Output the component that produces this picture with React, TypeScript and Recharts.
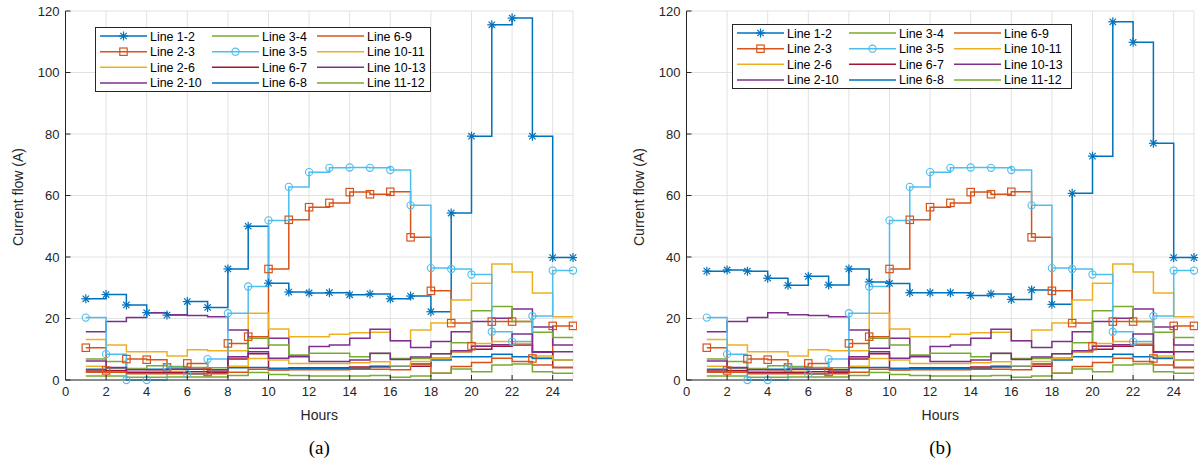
import React from 'react';
import { CartesianGrid, Line, LineChart, XAxis, YAxis } from 'recharts';

const hours = [1, 2, 3, 4, 5, 6, 7, 8, 9, 10, 11, 12, 13, 14, 15, 16, 17, 18, 19, 20, 21, 22, 23, 24, 25];

// line 1-2 differs between the two cases
const line12a = [26.4, 27.8, 24.4, 21.9, 21.1, 25.5, 23.6, 36.1, 50, 31.5, 28.6, 28.3, 28.4, 27.7, 28, 26.4, 27.3, 22.2, 54.3, 79.3, 115.5, 117.7, 79.3, 39.8, 39.8];
const line12b = [35.4, 35.8, 35.4, 33.1, 30.8, 33.7, 30.9, 36.1, 31.9, 31.4, 28.4, 28.4, 28.4, 27.5, 28, 26.2, 29.3, 24.6, 60.7, 72.8, 116.5, 109.8, 77, 39.8, 39.8];

const line23 = [10.5, 3.1, 6.8, 6.6, 4.1, 5.4, 2.6, 11.9, 14.1, 36.1, 52.1, 56.2, 57.6, 61.1, 60.4, 61.2, 46.4, 29, 18.5, 11, 19, 19, 7, 17.6, 17.6];
const line35 = [20.3, 8.4, 0, 0, 4.1, 1.9, 6.8, 21.7, 30.4, 51.9, 62.8, 67.6, 69, 69.1, 69, 68.3, 56.8, 36.4, 36.1, 34.3, 15.7, 12.5, 20.8, 35.6, 35.6];
const line26 = [13.2, 11.4, 9.2, 9.2, 7.8, 9.8, 9.5, 9.5, 21.7, 16.6, 14.1, 14.1, 14.9, 15.4, 15.5, 12.8, 16.3, 18.5, 26, 31.5, 37.7, 35.1, 28.3, 20.6, 20.6];
const line210 = [15.7, 19, 20.3, 21.9, 21.2, 21, 20.6, 16.3, 10.3, 13.6, 7.9, 10.9, 11.4, 13.6, 16.5, 12.8, 10.6, 12.5, 15.7, 19, 20.1, 23.1, 17.2, 11.4, 11.4];
const line34 = [6.8, 6, 3.7, 4.6, 4.4, 4.1, 4, 7.6, 13.6, 11.4, 8.1, 8.7, 8.7, 7.6, 8.6, 7, 7, 8.5, 12.1, 22.5, 23.9, 19, 15.5, 13.8, 13.8];
const line67 = [2.9, 3, 2.5, 2.5, 2.5, 2.7, 2.5, 6.8, 8.5, 3.3, 4, 4, 4, 4.2, 4.5, 4.5, 4.5, 7.1, 9.2, 10, 11, 11.4, 9.2, 4.1, 4.1];
const line68 = [3.5, 3.8, 3.5, 3.5, 3.5, 3.5, 3.3, 4, 4.1, 3.8, 3.8, 3.8, 3.8, 3.8, 4.2, 4.5, 5.2, 6.5, 7.6, 7.6, 8.4, 7.6, 7.1, 6.5, 6.5];
const line69 = [2.5, 2.5, 2, 2, 2, 2, 2, 2.5, 3.5, 3.3, 3.3, 3.3, 3.3, 3.5, 3.5, 3.3, 5.2, 2.2, 4.4, 5.7, 7.1, 6, 4.9, 4.1, 4.1];
const line1011 = [4.5, 4, 3.5, 3.3, 3.3, 3.5, 3.3, 4.5, 7, 6.5, 5.4, 5.4, 5.4, 5.6, 5.9, 4.6, 6, 7.1, 9.2, 11.9, 12.5, 11.9, 7.8, 6.5, 6.5];
const line1013 = [6.2, 4.1, 3.3, 3.3, 3.5, 3.5, 3.3, 7.6, 9.2, 7.1, 7.6, 6, 6, 6.5, 8.7, 6.7, 7.5, 8.5, 9.5, 11, 11.5, 15, 9, 9.2, 9.2];
const line1112 = [1.3, 1.3, 0.9, 0.9, 1, 1, 1, 1.5, 2.4, 1.8, 1.5, 1.3, 1.3, 1.3, 1.5, 0.9, 1.3, 2.2, 3.6, 2.7, 4.9, 5.2, 2.7, 2.2, 2.2];

const xTicks = [0, 2, 4, 6, 8, 10, 12, 14, 16, 18, 20, 22, 24];
const yTicks = [0, 20, 40, 60, 80, 100, 120];

type Marker = 'star' | 'square' | 'circle' | null;

const series: { key: string; name: string; color: string; marker: Marker }[] = [
  { key: 'l12', name: 'Line 1-2', color: '#0072BD', marker: 'star' },
  { key: 'l23', name: 'Line 2-3', color: '#D95319', marker: 'square' },
  { key: 'l26', name: 'Line 2-6', color: '#EDB120', marker: null },
  { key: 'l210', name: 'Line 2-10', color: '#7E2F8E', marker: null },
  { key: 'l34', name: 'Line 3-4', color: '#77AC30', marker: null },
  { key: 'l35', name: 'Line 3-5', color: '#4DBEEE', marker: 'circle' },
  { key: 'l67', name: 'Line 6-7', color: '#A2142F', marker: null },
  { key: 'l68', name: 'Line 6-8', color: '#0072BD', marker: null },
  { key: 'l69', name: 'Line 6-9', color: '#D95319', marker: null },
  { key: 'l1011', name: 'Line 10-11', color: '#EDB120', marker: null },
  { key: 'l1013', name: 'Line 10-13', color: '#7E2F8E', marker: null },
  { key: 'l1112', name: 'Line 11-12', color: '#77AC30', marker: null },
];

const FONT = '"Liberation Sans", Arial, Helvetica, sans-serif';

function MarkerShape({ kind, cx, cy, color }: { kind: Marker; cx: number; cy: number; color: string }) {
  if (kind === 'star') {
    return (
      <g stroke={color} strokeWidth={1.2}>
        <line x1={cx - 4.5} y1={cy} x2={cx + 4.5} y2={cy} />
        <line x1={cx} y1={cy - 4.5} x2={cx} y2={cy + 4.5} />
        <line x1={cx - 3.2} y1={cy - 3.2} x2={cx + 3.2} y2={cy + 3.2} />
        <line x1={cx - 3.2} y1={cy + 3.2} x2={cx + 3.2} y2={cy - 3.2} />
      </g>
    );
  }
  if (kind === 'square') {
    return <rect x={cx - 3.7} y={cy - 3.7} width={7.4} height={7.4} fill="none" stroke={color} strokeWidth={1.2} />;
  }
  if (kind === 'circle') {
    return <circle cx={cx} cy={cy} r={3.6} fill="none" stroke={color} strokeWidth={1.1} />;
  }
  return null;
}

const dotFor = (kind: Marker, color: string) => (props: any) => {
  const { cx, cy, index } = props;
  if (cx == null || cy == null) return <g key={index} />;
  return (
    <g key={index}>
      <MarkerShape kind={kind} cx={cx} cy={cy} color={color} />
    </g>
  );
};

const XTick = (props: any) => {
  const { x, y, payload } = props;
  return (
    <g>
      <line x1={x} x2={x} y1={y} y2={y - 5} stroke="#262626" />
      <text x={x} y={y + 16} textAnchor="middle" fontFamily={FONT} fontSize={13} fill="#262626">
        {payload.value}
      </text>
    </g>
  );
};

const YTick = (props: any) => {
  const { x, y, payload } = props;
  return (
    <g>
      <line x1={x} x2={x + 5} y1={y} y2={y} stroke="#262626" />
      <text x={x - 6} y={y + 4.5} textAnchor="end" fontFamily={FONT} fontSize={13} fill="#262626">
        {payload.value}
      </text>
    </g>
  );
};

const legendCols = [5, 117, 222];
const legendRows = [9, 24.7, 40.3, 55.9];

function LegendBox({ left, top, width }: { left: number; top: number; width: number }) {
  return (
    <svg style={{ position: 'absolute', left, top }} width={width} height={66}>
      <rect x={0.5} y={0.5} width={width - 1} height={64} fill="#fff" stroke="#262626" strokeWidth={1} />
      {series.map((s, i) => {
        const col = Math.floor(i / 4);
        const row = i % 4;
        const x0 = legendCols[col];
        const y0 = legendRows[row];
        return (
          <g key={s.key}>
            <line x1={x0} x2={x0 + 47} y1={y0} y2={y0} stroke={s.color} strokeWidth={1.5} />
            <MarkerShape kind={s.marker} cx={x0 + 23.5} cy={y0} color={s.color} />
            <text x={x0 + 50} y={y0 + 4.5} fontFamily={FONT} fontSize={12.4} fill="#000">
              {s.name}
            </text>
          </g>
        );
      })}
    </svg>
  );
}

function Panel({ line12, left, tag, legendLeft, legendTop, legendWidth }: {
  line12: number[]; left: number; tag: string; legendLeft: number; legendTop: number; legendWidth: number;
}) {
  const data = hours.map((h, i) => ({
    h,
    l12: line12[i],
    l23: line23[i],
    l26: line26[i],
    l210: line210[i],
    l34: line34[i],
    l35: line35[i],
    l67: line67[i],
    l68: line68[i],
    l69: line69[i],
    l1011: line1011[i],
    l1013: line1013[i],
    l1112: line1112[i],
  }));
  return (
    <div style={{ position: 'absolute', left, top: 0, width: 577, height: 464 }}>
      <LineChart width={577} height={464} data={data} margin={{ top: 11, right: 4, left: 25.5, bottom: 0 }}>
        <CartesianGrid stroke="#e2e2e2" strokeWidth={1} />
        <XAxis
          type="number"
          dataKey="h"
          domain={[0, 25]}
          ticks={xTicks}
          interval={0}
          height={84}
          tickLine={false}
          tickSize={0}
          tickMargin={0}
          axisLine={{ stroke: '#262626' }}
          tick={<XTick />}
        />
        <YAxis
          type="number"
          domain={[0, 120]}
          ticks={yTicks}
          interval={0}
          width={40}
          tickLine={false}
          tickSize={0}
          tickMargin={0}
          axisLine={{ stroke: '#262626' }}
          tick={<YTick />}
        />
        {series.map((s) => (
          <Line
            key={s.key}
            type="stepAfter"
            dataKey={s.key}
            name={s.name}
            stroke={s.color}
            strokeWidth={1.5}
            dot={s.marker ? dotFor(s.marker, s.color) : false}
            activeDot={false}
            isAnimationActive={false}
          />
        ))}
      </LineChart>
      <div style={{ position: 'absolute', left: 0, top: 0, width: 577, height: 464, pointerEvents: 'none' }}>
        <div style={{ position: 'absolute', left: 65.5, width: 507.5, top: 407, textAlign: 'center', fontFamily: FONT, fontSize: 14, color: '#262626' }}>
          Hours
        </div>
        <div style={{ position: 'absolute', left: 65.5, width: 507.5, top: 437, textAlign: 'center', fontFamily: '"Liberation Serif", "Times New Roman", serif', fontSize: 19, color: '#000' }}>
          {tag}
        </div>
        <div style={{ position: 'absolute', left: 18, top: 197, transform: 'translate(-50%, -50%) rotate(-90deg)', whiteSpace: 'nowrap', fontFamily: FONT, fontSize: 14, color: '#262626' }}>
          Current flow (A)
        </div>
        <LegendBox left={legendLeft} top={legendTop} width={legendWidth} />
      </div>
    </div>
  );
}

export default function App() {
  return (
    <div style={{ position: 'absolute', left: 0, top: 0, width: 1198, height: 464, background: '#fff', overflow: 'hidden' }}>
      <Panel line12={line12a} left={0} tag="(a)" legendLeft={95} legendTop={27} legendWidth={336} />
      <Panel line12={line12b} left={621} tag="(b)" legendLeft={111} legendTop={24} legendWidth={340} />
    </div>
  );
}
